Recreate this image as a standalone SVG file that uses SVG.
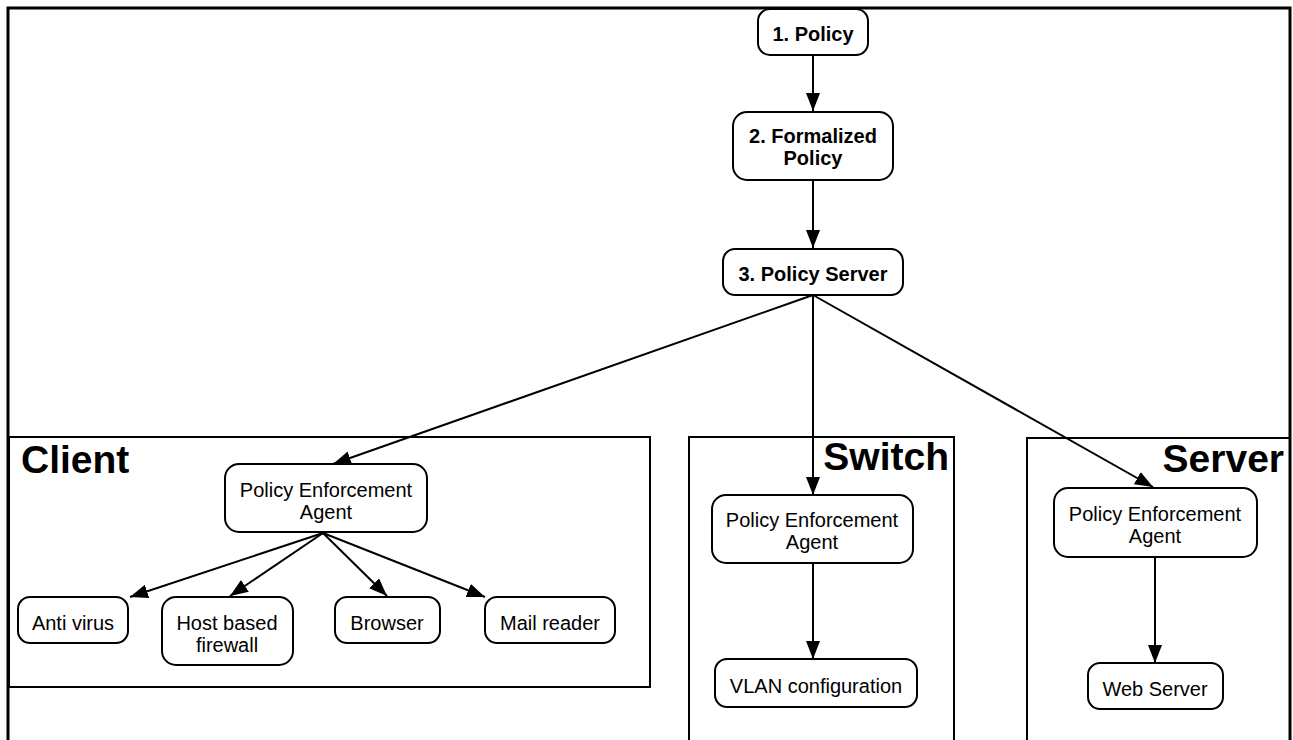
<svg xmlns="http://www.w3.org/2000/svg" width="1293" height="740" viewBox="0 0 1293 740">
<defs>
<style>
.frame{fill:none;stroke:#000;stroke-width:3}
.box{fill:none;stroke:#000;stroke-width:2}
.node{fill:#fff;stroke:#000;stroke-width:2}
.t{font-family:"Liberation Sans",Arial,sans-serif;font-size:20px;fill:#000;text-anchor:middle}
.b{font-family:"Liberation Sans",Arial,sans-serif;font-size:20px;font-weight:bold;fill:#000;text-anchor:middle}
.big{font-family:"Liberation Sans",Arial,sans-serif;font-size:39px;font-weight:bold;fill:#000}
.c{stroke:#000;stroke-width:2;fill:none;marker-end:url(#arr)}
</style>
<marker id="arr" markerUnits="userSpaceOnUse" markerWidth="18" markerHeight="14" refX="18" refY="7" orient="auto">
<path d="M0,0 L18,7 L0,14 z" fill="#000"/>
</marker>
</defs>
<rect width="1293" height="740" fill="#fff"/>
<rect class="frame" x="8" y="8" width="1282" height="760"/>

<g id="client-group">
<rect class="box" x="9" y="437" width="641" height="250"/>
<text class="big" x="21" y="473">Client</text>
</g>
<g id="switch-group">
<rect class="box" x="689" y="437" width="265" height="320"/>
<text class="big" x="949" y="470" text-anchor="end">Switch</text>
</g>
<g id="server-group">
<rect class="box" x="1027" y="438" width="263" height="320"/>
<text class="big" x="1284" y="472" text-anchor="end">Server</text>
</g>

<g id="connectors">
<line class="c" x1="813" y1="55" x2="813" y2="111"/>
<line class="c" x1="813" y1="180" x2="813" y2="248"/>
<line class="c" x1="813" y1="295" x2="333" y2="464"/>
<line class="c" x1="813" y1="295" x2="813" y2="495"/>
<line class="c" x1="813" y1="295" x2="1153" y2="487"/>
<line class="c" x1="323" y1="533" x2="130" y2="597"/>
<line class="c" x1="323" y1="533" x2="230" y2="596"/>
<line class="c" x1="323" y1="533" x2="387" y2="596"/>
<line class="c" x1="323" y1="533" x2="485" y2="597"/>
<line class="c" x1="813" y1="563" x2="813" y2="659"/>
<line class="c" x1="1155" y1="557" x2="1155" y2="663"/>
</g>

<g id="n1">
<rect class="node" x="758" y="9" width="110" height="46" rx="12"/>
<text class="b" x="813" y="41">1. Policy</text>
</g>
<g id="n2">
<rect class="node" x="733" y="112" width="160" height="68" rx="14"/>
<text class="b" x="813" y="143">2. Formalized</text>
<text class="b" x="813" y="165">Policy</text>
</g>
<g id="n3">
<rect class="node" x="723" y="249" width="180" height="46" rx="12"/>
<text class="b" x="813" y="281">3. Policy Server</text>
</g>

<g id="client-pea">
<rect class="node" x="225" y="464" width="202" height="68" rx="14"/>
<text class="t" x="326" y="497">Policy Enforcement</text>
<text class="t" x="326" y="519">Agent</text>
</g>
<g id="antivirus">
<rect class="node" x="18" y="597" width="110" height="46" rx="12"/>
<text class="t" x="73" y="630">Anti virus</text>
</g>
<g id="firewall">
<rect class="node" x="162" y="597" width="131" height="68" rx="14"/>
<text class="t" x="227" y="630">Host based</text>
<text class="t" x="227" y="652">firewall</text>
</g>
<g id="browser">
<rect class="node" x="335" y="597" width="105" height="46" rx="12"/>
<text class="t" x="387" y="630">Browser</text>
</g>
<g id="mailreader">
<rect class="node" x="485" y="597" width="130" height="46" rx="12"/>
<text class="t" x="550" y="630">Mail reader</text>
</g>

<g id="switch-pea">
<rect class="node" x="712" y="495" width="201" height="68" rx="14"/>
<text class="t" x="812" y="527">Policy Enforcement</text>
<text class="t" x="812" y="549">Agent</text>
</g>
<g id="vlan">
<rect class="node" x="715" y="659" width="202" height="48" rx="12"/>
<text class="t" x="816" y="693">VLAN configuration</text>
</g>

<g id="server-pea">
<rect class="node" x="1054" y="488" width="203" height="69" rx="14"/>
<text class="t" x="1155" y="521">Policy Enforcement</text>
<text class="t" x="1155" y="543">Agent</text>
</g>
<g id="webserver">
<rect class="node" x="1088" y="663" width="135" height="46" rx="12"/>
<text class="t" x="1155" y="696">Web Server</text>
</g>
</svg>
